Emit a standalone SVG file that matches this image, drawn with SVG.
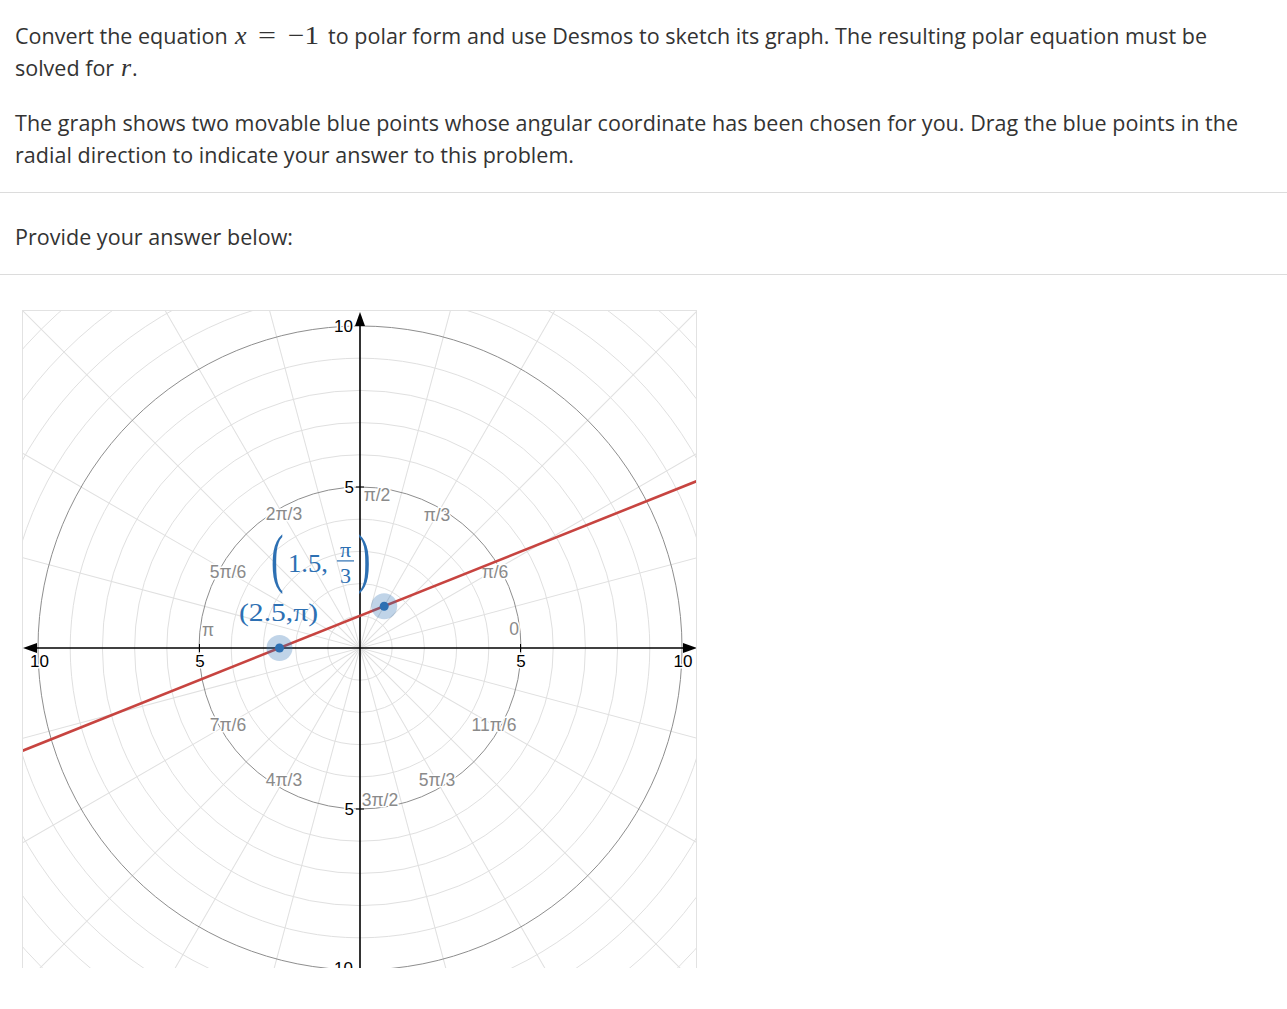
<svg xmlns="http://www.w3.org/2000/svg" width="1287" height="1009" viewBox="0 0 1287 1009">
<style>
.body{font-family:"Open Sans","Noto Sans",sans-serif;font-size:21.5px;fill:#333}
.math{font-family:"Liberation Serif","DejaVu Serif",serif;font-size:26px;fill:#333}
.sep{stroke:#dcdcdc;stroke-width:1}
.minor{fill:none;stroke:#e0e0e0;stroke-width:1}
.major{fill:none;stroke:#8e8e8e;stroke-width:1}
.spoke{stroke:#e0e0e0;stroke-width:1}
.ang{font-family:"Liberation Sans",Arial,sans-serif;font-size:17.5px;fill:#8a8a8a;text-anchor:middle;stroke:#fff;stroke-width:3;paint-order:stroke;stroke-linejoin:round}
.num{font-family:"Liberation Sans",Arial,sans-serif;font-size:17px;fill:#000;stroke:#fff;stroke-width:3;paint-order:stroke;stroke-linejoin:round}
.axis{stroke:#000;stroke-width:1.6}
.tick{stroke:#000;stroke-width:1}
.halo{fill:#2d70b3;fill-opacity:0.3}
.dot{fill:#2d70b3}
.blue{font-family:"Liberation Serif","DejaVu Serif",serif;fill:#2d70b3}
</style>
<defs>
<clipPath id="plot"><rect x="22" y="310" width="675" height="658"/></clipPath>
</defs>

<g id="question-text">
<text class="body" x="15" y="44">Convert the equation</text>
<text class="math" x="235" y="44" font-style="italic">x</text>
<text class="math" x="258" y="44" textLength="18" lengthAdjust="spacingAndGlyphs">=</text>
<text class="math" x="288" y="44" textLength="31" lengthAdjust="spacingAndGlyphs">−1</text>
<text class="body" x="328" y="44" textLength="879" lengthAdjust="spacing">to polar form and use Desmos to sketch its graph. The resulting polar equation must be</text>
<text class="body" x="15" y="76">solved for</text>
<text class="math" x="121" y="76" font-style="italic">r</text>
<text class="body" x="132" y="76">.</text>
<text class="body" x="15" y="131" textLength="1223" lengthAdjust="spacing">The graph shows two movable blue points whose angular coordinate has been chosen for you. Drag the blue points in the</text>
<text class="body" x="15" y="163" textLength="559" lengthAdjust="spacing">radial direction to indicate your answer to this problem.</text>
<line class="sep" x1="0" y1="192.5" x2="1287" y2="192.5"/>
<text class="body" x="15" y="245" textLength="278" lengthAdjust="spacing">Provide your answer below:</text>
<line class="sep" x1="0" y1="274.5" x2="1287" y2="274.5"/>
</g>

<g id="graph" clip-path="url(#plot)">
<rect x="22" y="310" width="675" height="658" fill="#fff"/>
<g id="grid" transform="translate(360 648)">
<circle class="minor" r="32.2"/><circle class="minor" r="64.4"/><circle class="minor" r="96.6"/><circle class="minor" r="128.8"/>
<circle class="minor" r="193.2"/><circle class="minor" r="225.4"/><circle class="minor" r="257.6"/><circle class="minor" r="289.8"/>
<circle class="minor" r="354.2"/><circle class="minor" r="386.4"/><circle class="minor" r="418.6"/><circle class="minor" r="450.8"/>
<line class="spoke" x1="-520" y1="0" x2="520" y2="0" transform="rotate(-15)"/>
<line class="spoke" x1="-520" y1="0" x2="520" y2="0" transform="rotate(-30)"/>
<line class="spoke" x1="-520" y1="0" x2="520" y2="0" transform="rotate(-45)"/>
<line class="spoke" x1="-520" y1="0" x2="520" y2="0" transform="rotate(-60)"/>
<line class="spoke" x1="-520" y1="0" x2="520" y2="0" transform="rotate(-75)"/>
<line class="spoke" x1="-520" y1="0" x2="520" y2="0" transform="rotate(-105)"/>
<line class="spoke" x1="-520" y1="0" x2="520" y2="0" transform="rotate(-120)"/>
<line class="spoke" x1="-520" y1="0" x2="520" y2="0" transform="rotate(-135)"/>
<line class="spoke" x1="-520" y1="0" x2="520" y2="0" transform="rotate(-150)"/>
<line class="spoke" x1="-520" y1="0" x2="520" y2="0" transform="rotate(-165)"/>
<circle class="major" r="161"/>
<circle class="major" r="322"/>
</g>

<g id="angle-labels">
<text class="ang" x="377" y="501">π/2</text>
<text class="ang" x="437" y="521">π/3</text>
<text class="ang" x="495" y="578">π/6</text>
<text class="ang" x="514" y="635">0</text>
<text class="ang" x="284" y="520">2π/3</text>
<text class="ang" x="228" y="578">5π/6</text>
<text class="ang" x="208" y="636">π</text>
<text class="ang" x="228" y="731">7π/6</text>
<text class="ang" x="284" y="786">4π/3</text>
<text class="ang" x="380" y="806">3π/2</text>
<text class="ang" x="437" y="786">5π/3</text>
<text class="ang" x="494" y="731">11π/6</text>
</g>

<g id="axes">
<line class="axis" x1="360" y1="324" x2="360" y2="980"/>
<polygon points="360,312 355,326 365,326" fill="#000"/>
<line class="axis" x1="36" y1="648" x2="684" y2="648"/>
<polygon points="697,648 683,643 683,653" fill="#000"/>
<polygon points="23,648 37,643 37,653" fill="#000"/>
<line class="tick" x1="199.5" y1="644" x2="199.5" y2="652"/>
<line class="tick" x1="520.5" y1="644" x2="520.5" y2="652"/>
<line class="tick" x1="356" y1="487" x2="364" y2="487"/>
<line class="tick" x1="356" y1="809" x2="364" y2="809"/>
<line class="tick" x1="356" y1="970" x2="364" y2="970"/>
<text class="num" x="353" y="332" text-anchor="end">10</text>
<text class="num" x="354" y="493" text-anchor="end">5</text>
<text class="num" x="354" y="815" text-anchor="end">5</text>
<text class="num" x="353" y="974" text-anchor="end">10</text>
<text class="num" x="39.5" y="667" text-anchor="middle">10</text>
<text class="num" x="200" y="667" text-anchor="middle">5</text>
<text class="num" x="521" y="667" text-anchor="middle">5</text>
<text class="num" x="683" y="667" text-anchor="middle">10</text>
</g>

<g id="curve">
<line x1="22" y1="751" x2="697" y2="481" stroke="#c74440" stroke-width="2.6"/>
</g>

<g id="point-2-5-pi">
<circle class="halo" cx="279.5" cy="648" r="13"/>
<circle class="dot" cx="279.5" cy="648" r="4.5"/>
<text class="blue" x="239" y="621" font-size="25" textLength="79" lengthAdjust="spacingAndGlyphs">(2.5,π)</text>
</g>

<g id="point-1-5-pi3">
<circle class="halo" cx="384.2" cy="606.2" r="13"/>
<circle class="dot" cx="384.2" cy="606.2" r="4.5"/>
<text class="blue" font-size="34" transform="translate(271 580) scale(1.1 1.95)">(</text>
<text class="blue" x="288" y="572" font-size="25" textLength="40" lengthAdjust="spacingAndGlyphs">1.5,</text>
<text class="blue" x="345.5" y="557" font-size="22" text-anchor="middle">π</text>
<rect x="337" y="560.3" width="17" height="1.2" fill="#2d70b3"/>
<text class="blue" x="345.5" y="583" font-size="22" text-anchor="middle">3</text>
<text class="blue" font-size="34" transform="translate(358 580) scale(1.1 1.95)">)</text>
</g>

<rect x="22.5" y="310.5" width="674" height="700" fill="none" stroke="#e2e2e2"/>
</g>
</svg>
